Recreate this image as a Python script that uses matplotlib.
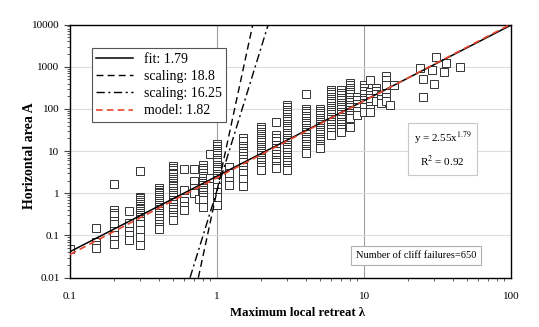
import matplotlib
matplotlib.use('Agg')
import matplotlib.pyplot as plt
import numpy as np

plt.rcParams['font.family'] = ['Liberation Serif', 'DejaVu Serif']
plt.rcParams['mathtext.fontset'] = 'stix'

# observed failures, one column per retreat value
Col_x = [0.1, 0.15, 0.2, 0.25, 0.3, 0.4, 0.5, 0.6, 0.7, 0.75, 0.8, 0.9, 1.0, 1.2, 1.5,
         2.0, 2.5, 3.0, 4.0, 5.0, 6.0, 7.0, 8.0, 9.0, 10, 11, 12, 13, 14, 15, 16,
         24, 25, 29, 30, 31, 35, 36, 45]
Col_y = [
    [0.048],
    [0.15, 0.07, 0.06, 0.05],
    [1.7, 0.40, 0.35, 0.30, 0.22, 0.19, 0.13, 0.10, 0.08, 0.062],
    [0.39, 0.20, 0.125, 0.10, 0.08],
    [3.4, 0.83, 0.76, 0.69, 0.62, 0.56, 0.5, 0.46, 0.42, 0.38, 0.34, 0.31, 0.28, 0.25,
     0.22, 0.19, 0.135, 0.093, 0.06],
    [1.35, 1.2, 1.1, 1.0, 0.9, 0.8, 0.72, 0.65, 0.58, 0.52, 0.47, 0.42, 0.38, 0.34,
     0.3, 0.26, 0.22, 0.19, 0.16, 0.14],
    [4.5, 4.0, 3.5, 3.1, 2.8, 2.5, 2.2, 2.0, 1.8, 1.6, 1.45, 1.3, 1.15, 1.0, 0.9, 0.8,
     0.7, 0.62, 0.55, 0.48, 0.42, 0.36, 0.31, 0.27, 0.23],
    [3.8, 1.2, 0.65, 0.5, 0.4],
    [3.8, 2.0, 1.3, 1.0],
    [0.73],
    [4.6, 4.0, 3.5, 3.0, 2.6, 2.3, 2.0, 1.75, 1.55, 1.35, 1.2, 1.05, 0.92, 0.8, 0.7, 0.48],
    [8.6, 2.3],
    [15, 13, 11.5, 10, 9, 8, 7, 6.2, 5.5, 4.8, 4.2, 3.7, 3.3, 2.9, 2.6, 2.3, 2.05, 1.9,
     1.4, 1.1, 0.83, 0.53],
    [4.2, 3.0, 2.0, 1.6],
    [20, 17, 13, 12, 10, 9, 7.8, 6.6, 5.5, 4.3, 3.6, 3.0, 2.2, 1.5],
    [38, 33, 29, 26, 23, 20, 18, 16, 14, 12.5, 11, 10, 9, 8, 7, 6.2, 5.5, 4.8, 4.2, 3.6],
    [50, 24, 20, 17, 14, 12, 10, 8.5, 7.4, 6.3, 5.5, 4.5, 4.0],
    [125, 110, 95, 85, 75, 66, 58, 51, 45, 40, 35, 31, 27, 24, 21, 18.5, 16, 14, 12.5,
     11, 9.5, 8.3, 7.2, 6.3, 5.5, 4.7, 4.0, 3.5],
    [220, 100, 88, 78, 68, 60, 53, 47, 41, 36, 32, 28, 25, 22, 19, 17, 15, 13, 11.5, 10, 9],
    [100, 90, 80, 70, 62, 55, 49, 44, 39, 35, 31, 28, 25, 22, 19.5, 17, 15, 13.5, 12],
    [280, 250, 220, 195, 170, 150, 135, 120, 105, 95, 85, 75, 66, 58, 50, 44, 38, 33, 28, 24],
    [280, 240, 210, 185, 160, 140, 125, 110, 97, 85, 75, 65, 57, 50, 43, 37, 33, 29],
    [410, 360, 320, 280, 250, 220, 190, 165, 145, 125, 110, 95, 82, 70, 60, 38],
    [195, 160, 130, 110, 90, 72],
    [370, 310, 260, 220, 185, 160, 135, 113, 86],
    [484, 258, 215, 180, 150, 120, 100, 86],
    [310, 260, 220, 180, 150],
    [214, 175, 138],
    [600, 480, 370, 240, 195, 150],
    [123],
    [370],
    [910],
    [510, 195],
    [830],
    [390],
    [1740],
    [760],
    [1200],
    [980],
]

# fitted / model power laws
Fit_a, Fit_b = 2.55, 1.79
Model_a, Model_b = 2.35, 1.82
# steep scaling lines, given by x where they cross A=0.01 and A=10000
Scal1_x = [0.746, 1.75]
Scal2_x = [0.655, 2.23]
Scal_y = [0.01, 10000]

X = []
Y = []
for i in range(len(Col_x)):
    for v in Col_y[i]:
        X += [Col_x[i]]
        Y += [v]

fig = plt.figure(figsize=(5.39, 3.27), dpi=100)
ax = fig.add_axes([0.1299, 0.1508, 0.8183, 0.7742])

ax.set_xscale('log')
ax.set_yscale('log')
ax.set_xlim(0.1, 100)
ax.set_ylim(0.01, 10000)

ax.yaxis.grid(True, which='major', color='#dcdcdc', lw=0.8, zorder=0)
ax.axvline(1, color='#a0a0a0', lw=0.8, zorder=0)
ax.axvline(10, color='#a0a0a0', lw=0.8, zorder=0)

ax.plot(X, Y, 's', mfc='white', mec='#333333', mew=0.7, ms=5.2, zorder=2)

xx = np.logspace(-1, 2, 50)
ax.plot(xx, Fit_a * xx**Fit_b, '-', color='black', lw=1.1, zorder=4, label='fit: 1.79')
ax.plot(Scal1_x, Scal_y, '--', color='black', lw=1.0, dashes=(5, 3), zorder=3, label='scaling: 18.8')
ax.plot(Scal2_x, Scal_y, '-.', color='black', lw=1.0, dashes=(6, 2.5, 1.5, 2.5), zorder=3, label='scaling: 16.25')
ax.plot(xx, Model_a * xx**Model_b, '--', color='#e8452c', lw=1.2, dashes=(4, 2.5), zorder=5, label='model: 1.82')

ax.set_xticks([0.1, 1, 10, 100])
ax.set_xticklabels(['0.1', '1', '10', '100'])
ax.set_yticks([0.01, 0.1, 1, 10, 100, 1000, 10000])
ax.set_yticklabels(['0.01', '0.1', '1', '10', '100', '1000', '10000'])
ax.tick_params(which='both', direction='out', labelsize=8, color='#444444')
ax.tick_params(which='major', length=4)
ax.tick_params(which='minor', length=2.5)
ax.tick_params(axis='x', which='major', length=0, pad=10)
for s in ax.spines.values():
    s.set_linewidth(1.0)
    s.set_color('black')

ax.set_xlabel('Maximum local retreat λ', fontsize=9.2, fontweight='bold')
ax.xaxis.set_label_coords(0.517, -0.115)
ax.set_ylabel('Horizontal area A', fontsize=10, fontweight='bold')
ax.yaxis.set_label_coords(-0.078, 0.48)

leg = ax.legend(loc='upper left', bbox_to_anchor=(0.049, 0.907), borderaxespad=0,
                fontsize=10, fancybox=False, edgecolor='#555555', framealpha=1,
                handlelength=2.6, labelspacing=0.3, borderpad=0.35, handletextpad=0.8)
leg.get_frame().set_linewidth(0.8)

ax.text(0.845, 0.507, 'y = 2.55x$^{1.79}$\nR$^{2}$ = 0.92', transform=ax.transAxes,
        ha='center', va='center', fontsize=8, linespacing=1.7,
        bbox=dict(boxstyle='square,pad=0.5', fc='white', ec='#c8c8c8', lw=0.8), zorder=6)
ax.text(0.784, 0.088, 'Number of cliff failures=650', transform=ax.transAxes,
        ha='center', va='center', fontsize=7.5,
        bbox=dict(boxstyle='square,pad=0.45', fc='white', ec='#b0b0b0', lw=0.8), zorder=6)

plt.savefig('out.png', dpi=100)
